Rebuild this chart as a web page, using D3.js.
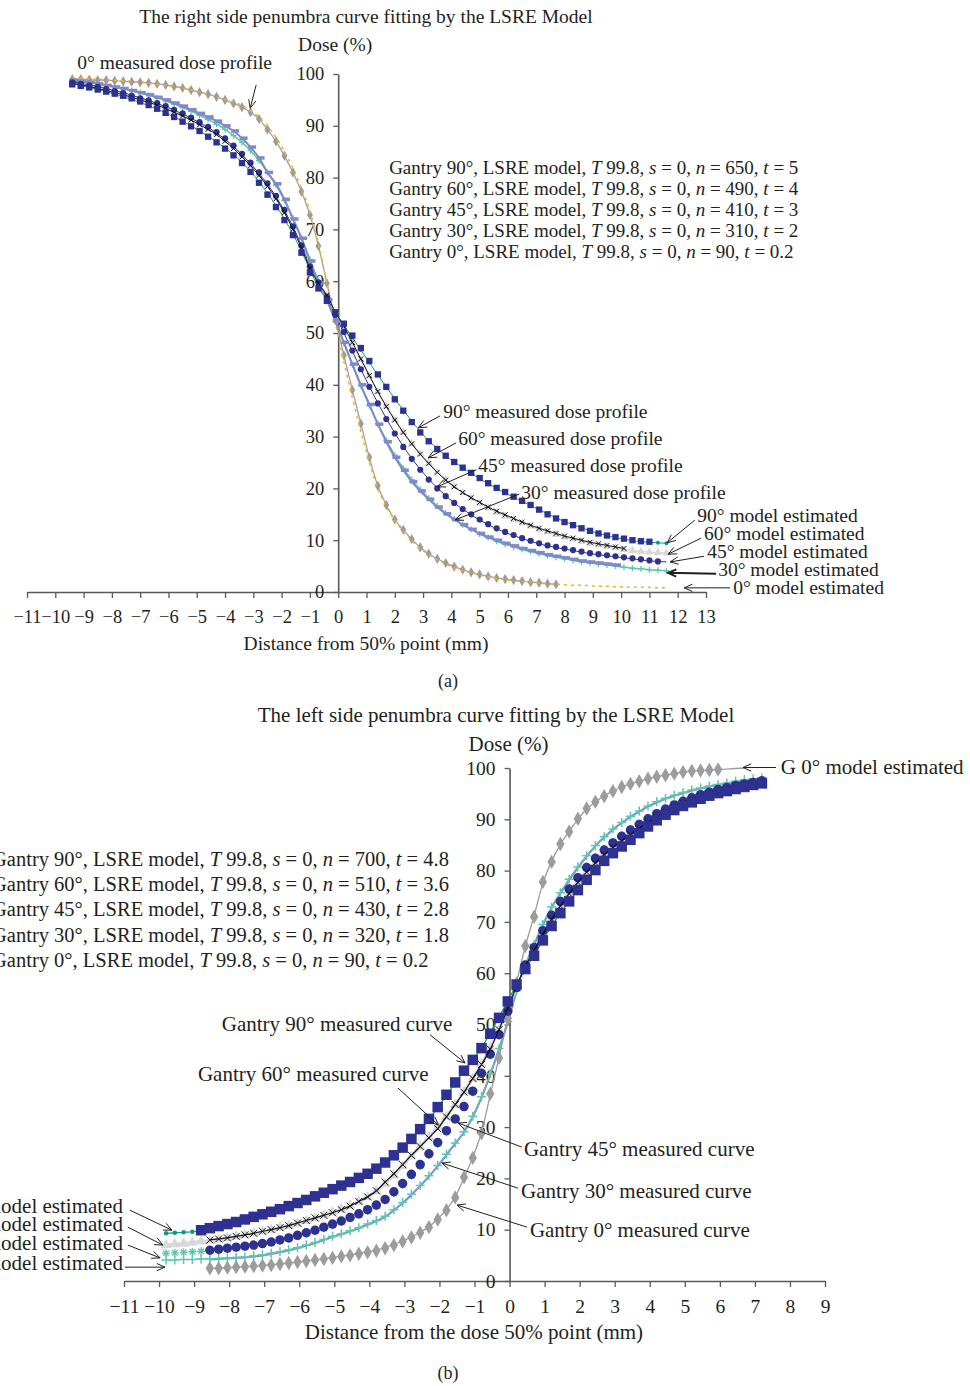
<!DOCTYPE html>
<html>
<head>
<meta charset="utf-8">
<script src="https://cdn.jsdelivr.net/npm/d3@7"></script>
<style>
  body { margin: 0; background: #fff; }
  text { font-family: "Liberation Serif", "DejaVu Serif", serif; fill: #231f20; }
</style>
</head>
<body>
<svg id="chart" width="970" height="1386"></svg>
<script>
// ---------- panel (a): right side penumbra, sampled every 0.3 mm from -9.4 mm
const aStart = -9.4, aStep = 0.3;
const aXTicks = [-11, -10, -9, -8, -7, -6, -5, -4, -3, -2, -1, 0, 1, 2, 3, 4, 5, 6, 7, 8, 9, 10, 11, 12, 13];
const yTicks = [0, 10, 20, 30, 40, 50, 60, 70, 80, 90, 100];

const a0Measured = [
  99.0, 99.0, 98.9, 98.8, 98.8, 98.7, 98.6, 98.5, 98.4, 98.3,
  98.1, 97.9, 97.6, 97.3, 96.9, 96.5, 96.1, 95.6, 95.0, 94.3,
  93.6, 92.6, 91.3, 89.3, 87.0, 84.2, 81.0, 77.3, 72.8, 66.8,
  59.6, 52.5, 45.7, 39.0, 32.5, 26.0, 20.5, 16.8, 14.0, 12.0,
  10.2, 8.6, 7.4, 6.4, 5.6, 4.9, 4.3, 3.8, 3.4, 3.0,
  2.7, 2.5, 2.3, 2.1, 1.9, 1.8, 1.6, 1.5];
const a0Model = [
  99.2, 99.2, 99.1, 99.0, 98.9, 98.8, 98.7, 98.6, 98.4, 98.2,
  98.0, 97.8, 97.6, 97.3, 96.9, 96.5, 96.1, 95.6, 95.1, 94.6,
  93.9, 92.9, 91.7, 90.0, 87.8, 85.0, 81.8, 78.0, 73.5, 67.3,
  59.8, 52.0, 44.5, 37.5, 31.0, 25.0, 20.0, 16.5, 13.8, 11.7,
  9.9, 8.4, 7.2, 6.2, 5.4, 4.7, 4.1, 3.7, 3.3, 2.9,
  2.6, 2.4, 2.2, 2.0, 1.9, 1.7, 1.6, 1.5, 1.4, 1.3,
  1.3, 1.2, 1.1, 1.1, 1.0, 1.0, 0.9, 0.9, 0.9, 0.8,
  0.8];
const a30Measured = [
  98.8, 98.6, 98.4, 98.1, 97.8, 97.5, 97.2, 96.8, 96.4, 96.0,
  95.5, 95.0, 94.4, 93.8, 93.1, 92.4, 91.7, 90.9, 90.0, 89.0,
  87.6, 85.9, 83.8, 81.0, 78.8, 75.8, 72.0, 68.3, 63.9, 59.7,
  56.4, 52.4, 48.2, 44.0, 40.0, 36.2, 32.4, 29.0, 26.0, 23.5,
  21.3, 19.5, 17.9, 16.4, 15.1, 14.0, 13.0, 12.1, 11.3, 10.6,
  10.0, 9.4, 8.9, 8.4, 8.0, 7.6, 7.2, 6.9, 6.6, 6.3,
  6.0, 5.8, 5.6, 5.4, 5.2];
const a30Model = [
  98.9, 98.7, 98.5, 98.2, 97.9, 97.6, 97.2, 96.8, 96.4, 95.9,
  95.4, 94.8, 94.2, 93.5, 92.8, 92.0, 91.2, 90.3, 89.3, 88.1,
  86.8, 85.2, 83.3, 81.0, 78.5, 75.6, 72.2, 68.4, 64.2, 60.0,
  56.3, 52.2, 48.0, 43.8, 39.8, 36.0, 32.5, 29.3, 26.4, 23.9,
  21.7, 19.8, 18.1, 16.6, 15.3, 14.1, 13.0, 12.1, 11.2, 10.5,
  9.8, 9.2, 8.7, 8.2, 7.8, 7.4, 7.0, 6.7, 6.4, 6.1,
  5.8, 5.6, 5.4, 5.2, 5.0, 4.8, 4.6, 4.5, 4.3, 4.2,
  4.1];
const a45Measured = [
  98.4, 98.1, 97.8, 97.5, 97.1, 96.7, 96.3, 95.8, 95.3, 94.9,
  94.4, 93.8, 93.1, 92.4, 91.6, 90.7, 89.8, 88.8, 87.6, 86.2,
  84.6, 82.9, 81.0, 78.9, 76.5, 73.8, 70.6, 66.9, 62.8, 59.8,
  57.0, 53.5, 50.2, 46.6, 43.0, 39.6, 36.4, 33.4, 30.6, 28.0,
  25.7, 23.6, 21.7, 20.0, 18.5, 17.2, 16.0, 15.0, 14.0, 13.1,
  12.3, 11.6, 11.0, 10.4, 9.9, 9.4, 9.0, 8.7, 8.4, 8.1,
  7.8, 7.5, 7.3, 7.1, 6.9, 6.7, 6.5, 6.3, 6.1, 5.9];
const a45Model = [
  98.5, 98.2, 97.9, 97.6, 97.2, 96.8, 96.4, 95.9, 95.4, 94.9,
  94.3, 93.7, 93.0, 92.3, 91.5, 90.6, 89.7, 88.6, 87.4, 86.0,
  84.4, 82.7, 80.8, 78.7, 76.3, 73.6, 70.5, 66.9, 63.0, 59.8,
  56.8, 53.4, 50.0, 46.5, 43.0, 39.7, 36.5, 33.5, 30.7, 28.1,
  25.8, 23.7, 21.8, 20.1, 18.6, 17.2, 16.0, 14.9, 13.9, 13.0,
  12.2, 11.5, 10.9, 10.3, 9.8, 9.3, 8.9, 8.6, 8.3, 8.0,
  7.7, 7.4, 7.2, 7.0, 6.8, 6.6, 6.4, 6.2, 6.0, 5.9,
  5.8];
const a60Measured = [
  98.2, 97.9, 97.6, 97.2, 96.8, 96.4, 96.0, 95.5, 95.0, 94.5,
  94.0, 93.3, 92.6, 91.9, 91.1, 90.2, 89.3, 88.3, 87.0, 85.6,
  84.0, 82.3, 80.4, 78.3, 75.9, 73.2, 70.0, 66.4, 62.5, 59.6,
  57.3, 54.0, 51.3, 48.2, 45.0, 41.8, 38.7, 35.8, 33.2, 30.8,
  28.6, 26.6, 24.8, 23.1, 21.6, 20.3, 19.2, 18.2, 17.3, 16.4,
  15.6, 14.9, 14.2, 13.5, 12.9, 12.3, 11.8, 11.3, 10.8, 10.4,
  10.0, 9.6, 9.3, 9.0, 8.7, 8.4];
const a60Model = [
  98.3, 98.0, 97.7, 97.3, 96.9, 96.5, 96.1, 95.6, 95.1, 94.6,
  94.1, 93.5, 92.8, 92.1, 91.3, 90.4, 89.5, 88.5, 87.3, 85.9,
  84.3, 82.6, 80.7, 78.6, 76.2, 73.5, 70.4, 66.9, 63.0, 59.9,
  57.2, 54.0, 51.0, 47.9, 44.8, 41.7, 38.7, 35.9, 33.3, 30.9,
  28.7, 26.7, 24.9, 23.2, 21.7, 20.4, 19.2, 18.1, 17.1, 16.2,
  15.4, 14.6, 13.9, 13.3, 12.7, 12.1, 11.6, 11.1, 10.6, 10.2,
  9.8, 9.4, 9.1, 8.8, 8.5, 8.2, 8.0, 7.8, 7.7, 7.6,
  7.5];
const a90Measured = [
  98.0, 97.7, 97.4, 97.0, 96.6, 96.2, 95.8, 95.3, 94.7, 94.0,
  93.3, 92.5, 91.7, 90.8, 89.9, 89.0, 87.9, 86.8, 85.6, 84.3,
  82.8, 81.1, 79.0, 76.7, 74.3, 71.8, 68.9, 65.5, 61.7, 58.6,
  56.2, 54.0, 51.8, 49.5, 47.1, 44.6, 42.0, 39.6, 37.2, 35.0,
  32.8, 30.8, 29.1, 27.6, 26.3, 25.1, 24.0, 23.0, 22.0, 21.0,
  20.1, 19.3, 18.4, 17.6, 16.8, 15.9, 15.0, 14.2, 13.5, 12.9,
  12.3, 11.8, 11.3, 10.9, 10.6, 10.3, 10.0, 9.8, 9.7];
const a90Model = [
  98.1, 97.8, 97.4, 97.0, 96.6, 96.1, 95.6, 95.1, 94.5, 93.9,
  93.2, 92.5, 91.7, 90.9, 90.0, 89.0, 88.0, 86.9, 85.7, 84.4,
  82.9, 81.2, 79.2, 77.0, 74.6, 72.0, 69.1, 65.8, 62.2, 58.9,
  56.3, 53.9, 51.5, 49.1, 46.7, 44.3, 41.9, 39.6, 37.3, 35.1,
  33.0, 31.0, 29.2, 27.7, 26.3, 25.1, 24.0, 22.9, 21.9, 20.9,
  20.0, 19.1, 18.3, 17.5, 16.7, 15.9, 15.1, 14.3, 13.6, 13.0,
  12.4, 11.8, 11.3, 10.9, 10.5, 10.2, 9.9, 9.7, 9.6, 9.5,
  9.4];

// ---------- panel (b): left side penumbra, sampled every 0.25 mm from -9.8 mm
const bStart = -9.8, bStep = 0.25;
const b90From = -8.8, bMeasFrom = -8.55;
const bXTicks = [-11, -10, -9, -8, -7, -6, -5, -4, -3, -2, -1, 0, 1, 2, 3, 4, 5, 6, 7, 8, 9];

const b90Measured = [
  9.9, 10.3, 10.7, 11.1, 11.5, 12.0, 12.5, 13.0, 13.5, 14.0,
  14.6, 15.2, 15.8, 16.5, 17.2, 17.9, 18.6, 19.3, 20.1, 20.9,
  21.9, 23.1, 24.5, 26.0, 27.7, 29.6, 31.6, 33.9, 36.3, 38.7,
  41.0, 43.1, 45.4, 48.2, 51.3, 54.5, 57.8, 60.8, 63.4, 66.4,
  69.2, 71.7, 74.0, 76.2, 78.2, 80.1, 81.9, 83.4, 84.7, 86.0,
  87.3, 88.6, 89.8, 90.9, 91.8, 92.6, 93.3, 94.0, 94.6, 95.1,
  95.5, 95.9, 96.3, 96.7, 97.0];
const b90Model = [
  9.3, 9.4, 9.5, 9.6, 9.8, 10.2, 10.6, 11.0, 11.4, 11.9,
  12.4, 12.9, 13.4, 13.9, 14.5, 15.1, 15.7, 16.4, 17.1, 17.8,
  18.5, 19.2, 20.0, 20.8, 21.8, 23.0, 24.4, 25.9, 27.6, 29.5,
  31.5, 33.8, 36.2, 38.6, 40.9, 43.1, 45.5, 48.3, 51.4, 54.6,
  57.8, 60.8, 63.5, 66.4, 69.2, 71.7, 74.0, 76.2, 78.2, 80.1,
  81.8, 83.4, 84.7, 86.0, 87.3, 88.6, 89.8, 90.9, 91.8, 92.6,
  93.3, 94.0, 94.6, 95.1, 95.5, 95.9, 96.3, 96.7, 97.0];
const b60Measured = [
  8.0, 8.2, 8.4, 8.7, 9.0, 9.3, 9.7, 10.0, 10.4, 10.8,
  11.3, 11.8, 12.3, 12.8, 13.3, 13.9, 14.6, 15.5, 16.4, 17.6,
  19.3, 20.9, 22.7, 24.5, 26.2, 27.9, 29.7, 32.0, 34.4, 36.8,
  39.5, 42.2, 45.2, 49.0, 53.2, 57.5, 61.3, 64.5, 67.6, 70.5,
  73.1, 75.5, 77.7, 79.7, 81.5, 83.1, 84.5, 85.8, 87.0, 88.2,
  89.3, 90.4, 91.4, 92.3, 93.1, 93.8, 94.4, 95.0, 95.5, 95.9,
  96.3, 96.7, 97.0, 97.3];
const b60Model = [
  7.0, 7.2, 7.3, 7.5, 7.7, 7.9, 8.1, 8.4, 8.7, 9.0,
  9.3, 9.6, 10.0, 10.4, 10.8, 11.2, 11.7, 12.2, 12.8, 13.4,
  14.0, 14.7, 15.5, 16.4, 17.5, 18.9, 20.6, 22.4, 24.3, 26.2,
  28.1, 30.0, 32.1, 34.4, 36.9, 39.5, 42.3, 45.4, 49.0, 53.0,
  57.2, 61.0, 64.4, 67.6, 70.5, 73.1, 75.5, 77.7, 79.7, 81.5,
  83.1, 84.5, 85.8, 87.0, 88.2, 89.3, 90.4, 91.4, 92.3, 93.1,
  93.8, 94.4, 95.0, 95.5, 95.9, 96.3, 96.7, 97.0, 97.3];
const b45Measured = [
  6.0, 6.2, 6.4, 6.6, 6.8, 7.0, 7.3, 7.6, 8.0, 8.4,
  8.9, 9.4, 9.9, 10.5, 11.1, 11.7, 12.4, 13.1, 13.9, 14.8,
  15.9, 17.4, 19.0, 20.8, 22.7, 24.8, 27.0, 29.3, 31.6, 34.0,
  37.0, 40.5, 44.2, 48.0, 52.6, 57.2, 61.6, 65.0, 68.3, 71.3,
  74.0, 76.4, 78.6, 80.6, 82.4, 84.0, 85.4, 86.7, 87.9, 89.0,
  90.1, 91.1, 92.0, 92.8, 93.5, 94.2, 94.8, 95.3, 95.8, 96.2,
  96.6, 96.9, 97.2, 97.5];
const b45Model = [
  5.4, 5.5, 5.6, 5.7, 5.8, 5.9, 6.1, 6.3, 6.5, 6.7,
  6.9, 7.2, 7.5, 7.9, 8.3, 8.7, 9.2, 9.7, 10.3, 10.9,
  11.5, 12.2, 12.9, 13.7, 14.6, 15.7, 17.1, 18.7, 20.5, 22.4,
  24.5, 26.7, 29.0, 31.4, 33.9, 36.8, 40.3, 44.0, 47.9, 52.4,
  57.0, 61.5, 65.1, 68.5, 71.5, 74.2, 76.6, 78.8, 80.8, 82.6,
  84.2, 85.6, 86.9, 88.1, 89.2, 90.2, 91.2, 92.1, 92.9, 93.6,
  94.3, 94.9, 95.4, 95.9, 96.3, 96.7, 97.0, 97.3, 97.6];
const b30Measured = [
  4.2, 4.3, 4.4, 4.5, 4.6, 4.8, 5.0, 5.3, 5.6, 6.0,
  6.4, 6.9, 7.4, 8.0, 8.6, 9.1, 9.7, 10.3, 11.0, 11.7,
  12.5, 13.8, 15.2, 16.8, 18.5, 20.4, 22.4, 24.6, 26.8, 29.0,
  32.0, 35.8, 40.3, 45.2, 50.5, 56.5, 61.5, 65.5, 69.4, 72.8,
  75.6, 78.2, 80.6, 82.8, 84.8, 86.5, 88.0, 89.3, 90.5, 91.5,
  92.5, 93.3, 94.0, 94.6, 95.1, 95.6, 96.0, 96.4, 96.7, 97.0,
  97.3, 97.6, 97.8, 98.0];
const b30Model = [
  4.1, 4.1, 4.2, 4.2, 4.3, 4.3, 4.4, 4.5, 4.6, 4.7,
  4.9, 5.1, 5.4, 5.7, 6.1, 6.5, 7.0, 7.5, 8.1, 8.7,
  9.2, 9.8, 10.4, 11.1, 11.8, 12.6, 13.9, 15.3, 16.9, 18.6,
  20.5, 22.5, 24.7, 26.9, 29.1, 32.1, 35.9, 40.4, 45.3, 50.6,
  56.6, 61.6, 65.6, 69.5, 72.9, 75.7, 78.3, 80.7, 82.9, 84.9,
  86.6, 88.1, 89.4, 90.6, 91.6, 92.6, 93.4, 94.1, 94.7, 95.2,
  95.7, 96.1, 96.5, 96.8, 97.1, 97.4, 97.7, 97.9, 98.1];
const b0Measured = [
  2.5, 2.5, 2.6, 2.7, 2.8, 2.9, 3.0, 3.1, 3.3, 3.5,
  3.7, 3.9, 4.1, 4.3, 4.5, 4.8, 5.0, 5.3, 5.6, 5.9,
  6.4, 7.0, 7.7, 8.5, 9.4, 10.5, 12.0, 13.8, 16.3, 20.2,
  24.0, 28.8, 36.5, 43.5, 51.2, 58.0, 65.3, 71.0, 77.8, 81.7,
  85.2, 87.6, 90.1, 92.1, 93.4, 94.5, 95.5, 96.3, 96.9, 97.4,
  97.9, 98.3, 98.6, 98.9, 99.2, 99.4, 99.5, 99.6, 99.7];
const b0Model = [
  2.4, 2.5, 2.6, 2.7, 2.8, 2.9, 3.0, 3.2, 3.3, 3.5,
  3.7, 3.9, 4.1, 4.3, 4.6, 4.8, 5.1, 5.4, 5.7, 6.0,
  6.5, 7.1, 7.8, 8.6, 9.5, 10.6, 12.1, 13.9, 16.4, 20.1,
  24.1, 29.0, 36.3, 43.6, 51.2, 58.2, 65.2, 71.2, 77.5, 81.8,
  85.1, 87.7, 90.0, 92.0, 93.4, 94.6, 95.5, 96.3, 96.9, 97.4,
  97.9, 98.3, 98.6, 98.9, 99.2, 99.4, 99.5, 99.6, 99.7, 99.8,
  99.9, 100.0];

// legend rows (gantry angle, n, t)
const gantryAngles = ['90°', '60°', '45°', '30°', '0°'];
const nRight = [650, 490, 410, 310, 90];
const tRight = ['5', '4', '3', '2', '0.2'];
const nLeft = [700, 510, 430, 320, 90];
const tLeft = ['4.8', '3.6', '2.8', '1.8', '0.2'];

// ---------- drawing
const ink = '#231f20', axisColor = '#58595b';
const navy = '#2e3192', peri = '#8189c9', teal = '#5cc7ae', green = '#00a07c',
  lightGray = '#d8d8d8', gray = '#9c9c9c', orange = '#f7b21b';
const fsA = 19.5, fsB = 21;

const symX = { draw(c, s) { const r = Math.sqrt(s) / 2; c.moveTo(-r, -r); c.lineTo(r, r); c.moveTo(r, -r); c.lineTo(-r, r); } };
const symPlus = { draw(c, s) { const r = Math.sqrt(s) / 2; c.moveTo(-r, 0); c.lineTo(r, 0); c.moveTo(0, -r); c.lineTo(0, r); } };
const symStar = { draw(c, s) { symX.draw(c, s * 0.5); symPlus.draw(c, s); } };
const symBar = { draw(c, s) { const w = Math.sqrt(s); c.rect(-w * 0.3, -w * 0.22, w, w * 0.44); } };

const svg = d3.select('#chart');

function series(g, sx, sy, from, step, values, o) {
  const pts = values.map((v, i) => [from + step * i, v]);
  if (o.line) {
    g.append('path').datum(pts)
      .attr('fill', 'none')
      .attr('stroke', o.line)
      .attr('stroke-width', o.lw || 1)
      .attr('stroke-dasharray', o.dash || null)
      .attr('d', d3.line().x(d => sx(d[0])).y(d => sy(d[1])).curve(d3.curveMonotoneX));
  }
  if (o.symbol) {
    g.append('g').selectAll('path').data(pts).join('path')
      .attr('transform', d => 'translate(' + sx(d[0]) + ',' + sy(d[1]) + ')')
      .attr('d', d3.symbol(o.symbol, o.size))
      .attr('fill', o.stroke ? 'none' : o.color)
      .attr('stroke', o.stroke ? o.color : null)
      .attr('stroke-width', o.stroke ? (o.sw || 1) : null);
  }
}

function axes(g, sx, sy, xTicks, fs) {
  const xa = g.append('g')
    .attr('transform', 'translate(0,' + sy(0) + ')')
    .call(d3.axisBottom(sx).tickValues(xTicks).tickSize(6).tickSizeOuter(0).tickPadding(12).tickFormat(d3.format('d')));
  const ya = g.append('g')
    .attr('transform', 'translate(' + sx(0) + ',0)')
    .call(d3.axisLeft(sy).tickValues(yTicks).tickSize(5).tickSizeOuter(0).tickPadding(9));
  [xa, ya].forEach(a => {
    a.select('.domain').attr('stroke', axisColor).attr('stroke-width', 1.6);
    a.selectAll('.tick line').attr('stroke', axisColor).attr('stroke-width', 1.3);
    a.selectAll('.tick text').attr('font-size', fs).attr('fill', ink);
  });
}

function label(g, px, py, txt, anchor, size) {
  return g.append('text').attr('x', px).attr('y', py)
    .attr('text-anchor', anchor || 'start')
    .attr('font-size', size)
    .text(txt);
}

// arrow given [x1, y1, x2, y2] in data units, head at the second point
function arrow(g, sx, sy, a, w) {
  const x1 = sx(a[0]), y1 = sy(a[1]), x2 = sx(a[2]), y2 = sy(a[3]);
  const ang = Math.atan2(y2 - y1, x2 - x1), L = 9, sp = 0.42;
  const p = 'M' + x1 + ',' + y1 + 'L' + x2 + ',' + y2 +
    'M' + (x2 - L * Math.cos(ang - sp)) + ',' + (y2 - L * Math.sin(ang - sp)) +
    'L' + x2 + ',' + y2 +
    'L' + (x2 - L * Math.cos(ang + sp)) + ',' + (y2 - L * Math.sin(ang + sp));
  g.append('path').attr('d', p).attr('fill', 'none').attr('stroke', ink).attr('stroke-width', w || 1);
}

function legendLine(g, px, py, anchor, size, angle, n, t) {
  const tx = g.append('text').attr('x', px).attr('y', py).attr('text-anchor', anchor).attr('font-size', size);
  tx.append('tspan').text('Gantry ' + angle + ', LSRE model, ');
  tx.append('tspan').attr('font-style', 'italic').text('T');
  tx.append('tspan').text(' 99.8, ');
  tx.append('tspan').attr('font-style', 'italic').text('s');
  tx.append('tspan').text(' = 0, ');
  tx.append('tspan').attr('font-style', 'italic').text('n');
  tx.append('tspan').text(' = ' + n + ', ');
  tx.append('tspan').attr('font-style', 'italic').text('t');
  tx.append('tspan').text(' = ' + t);
  return tx;
}

// ===== panel (a)
const xA = d3.scaleLinear().domain([-11, 13]).range([27, 706]);
const yA = d3.scaleLinear().domain([0, 100]).range([592, 74]);
const gA = svg.append('g');

axes(gA, xA, yA, aXTicks, 18.5);

series(gA, xA, yA, aStart, aStep, a60Model, { line: lightGray, lw: 1.5, symbol: d3.symbolTriangle, size: 30, color: lightGray });
series(gA, xA, yA, aStart, aStep, a90Model, { line: green, lw: 1, symbol: d3.symbolCircle, size: 12, color: green });
series(gA, xA, yA, aStart, aStep, a45Model, { line: navy, lw: 1 });
series(gA, xA, yA, aStart, aStep, a30Model, { line: teal, lw: 1.5, symbol: symPlus, size: 36, color: teal, stroke: true, sw: 1.3 });
series(gA, xA, yA, aStart, aStep, a0Measured, { line: gray, lw: 1.2, symbol: d3.symbolDiamond, size: 30, color: gray });
series(gA, xA, yA, aStart, aStep, a0Model, { line: orange, lw: 1.5, dash: '3,4' });
series(gA, xA, yA, aStart, aStep, a30Measured, { line: peri, lw: 2, symbol: symBar, size: 64, color: peri });
series(gA, xA, yA, aStart, aStep, a45Measured, { symbol: d3.symbolCircle, size: 30, color: navy });
series(gA, xA, yA, aStart, aStep, a60Measured, { line: '#111', lw: 1, symbol: symX, size: 25, color: '#111', stroke: true });
series(gA, xA, yA, aStart, aStep, a90Measured, { symbol: d3.symbolSquare, size: 40, color: navy });

label(gA, 366, 23, 'The right side penumbra curve fitting by the LSRE Model', 'middle', fsA);
label(gA, xA(0) - 3, 51, 'Dose (%)', 'middle', fsA);
label(gA, xA(-9.22), yA(101), '0° measured dose profile', 'start', fsA);
arrow(gA, xA, yA, [-2.9, 97.9, -3.11, 93.4]);

gantryAngles.forEach((a, i) => legendLine(gA, xA(1.8), 174 + i * 21, 'start', fsA - 0.5, a, nRight[i], tRight[i]));

label(gA, xA(3.71), yA(33.6), '90° measured dose profile', 'start', fsA);
arrow(gA, xA, yA, [3.6, 34.0, 2.83, 31.7]);
label(gA, xA(4.24), yA(28.4), '60° measured dose profile', 'start', fsA);
arrow(gA, xA, yA, [4.17, 28.8, 3.18, 25.9]);
label(gA, xA(4.95), yA(23.2), '45° measured dose profile', 'start', fsA);
arrow(gA, xA, yA, [4.88, 23.6, 3.5, 20.3]);
label(gA, xA(6.47), yA(18.0), '30° measured dose profile', 'start', fsA);
arrow(gA, xA, yA, [6.4, 18.9, 4.13, 13.9]);

label(gA, xA(12.69), yA(13.5), '90° model estimated', 'start', fsA);
arrow(gA, xA, yA, [12.61, 13.9, 11.63, 9.5]);
label(gA, xA(12.93), yA(10.0), '60° model estimated', 'start', fsA);
arrow(gA, xA, yA, [12.83, 10.4, 11.66, 7.3]);
label(gA, xA(13.04), yA(6.6), '45° model estimated', 'start', fsA);
arrow(gA, xA, yA, [12.93, 6.9, 11.73, 5.8]);
label(gA, xA(13.43), yA(3.1), '30° model estimated', 'start', fsA);
arrow(gA, xA, yA, [13.36, 3.5, 11.66, 3.7], 2);
label(gA, xA(13.96), yA(-0.4), '0° model estimated', 'start', fsA);
arrow(gA, xA, yA, [13.85, 0.8, 12.23, 0.8]);

label(gA, 366, 650, 'Distance from 50% point (mm)', 'middle', fsA);
label(gA, 448, 687, '(a)', 'middle', 18);

// ===== panel (b)
const xB = d3.scaleLinear().domain([-11, 9]).range([124, 825]);
const yB = d3.scaleLinear().domain([0, 100]).range([1281, 768]);
const gB = svg.append('g');

axes(gB, xB, yB, bXTicks, 19.5);

series(gB, xB, yB, bMeasFrom, bStep, b30Measured, { line: peri, lw: 2.2 });
series(gB, xB, yB, bStart, bStep, b30Model, { line: teal, lw: 1, symbol: symPlus, size: 81, color: teal, stroke: true, sw: 1.5 });
series(gB, xB, yB, bStart, bStep, b45Model, { symbol: symStar, size: 64, color: teal, stroke: true, sw: 1.3 });
series(gB, xB, yB, bStart, bStep, b60Model, { line: lightGray, lw: 3, symbol: d3.symbolTriangle, size: 50, color: lightGray });
series(gB, xB, yB, bStart, bStep, b90Model, { line: green, lw: 1.2, symbol: d3.symbolCircle, size: 16, color: green });
series(gB, xB, yB, bMeasFrom, bStep, b0Model, { line: gray, lw: 1.3 });
series(gB, xB, yB, bMeasFrom, bStep, b0Measured, { symbol: d3.symbolDiamond, size: 60, color: gray });
series(gB, xB, yB, bMeasFrom, bStep, b45Measured, { symbol: d3.symbolCircle, size: 70, color: navy });
series(gB, xB, yB, bMeasFrom, bStep, b60Measured, { line: '#111', lw: 1.2, symbol: symX, size: 49, color: '#111', stroke: true });
series(gB, xB, yB, b90From, bStep, b90Measured, { symbol: d3.symbolSquare, size: 110, color: navy });

label(gB, 496, 722, 'The left side penumbra curve fitting by the LSRE Model', 'middle', fsB);
label(gB, xB(0) - 1, 751, 'Dose (%)', 'middle', fsB);
label(gB, xB(7.74), yB(98.8), 'G 0° model estimated', 'start', fsB);
arrow(gB, xB, yB, [7.6, 100.1, 6.66, 100.1]);

// left-aligned legend whose first row ends at x = -1.73 mm
const firstRow = legendLine(gB, xB(-1.73), 866, 'end', fsB - 0.5, gantryAngles[0], nLeft[0], tLeft[0]);
const legendX = xB(-1.73) - firstRow.node().getComputedTextLength();
firstRow.attr('x', legendX).attr('text-anchor', 'start');
gantryAngles.slice(1).forEach((a, i) => legendLine(gB, legendX, 866 + (i + 1) * 25.2, 'start', fsB - 0.5, a, nLeft[i + 1], tLeft[i + 1]));

label(gB, xB(-8.21), yB(48.7), 'Gantry 90° measured curve', 'start', fsB);
arrow(gB, xB, yB, [-2.27, 48.0, -1.27, 42.5]);
label(gB, xB(-8.89), yB(39.0), 'Gantry 60° measured curve', 'start', fsB);
arrow(gB, xB, yB, [-3.18, 37.6, -2.03, 30.4]);
label(gB, xB(0.41), yB(24.4), 'Gantry 45° measured curve', 'start', fsB);
arrow(gB, xB, yB, [0.35, 26.1, -1.47, 30.8]);
label(gB, xB(0.33), yB(16.2), 'Gantry 30° measured curve', 'start', fsB);
arrow(gB, xB, yB, [0.24, 18.1, -1.93, 23.0]);
label(gB, xB(0.58), yB(8.6), 'Gantry 0° measured curve', 'start', fsB);
arrow(gB, xB, yB, [0.5, 10.5, -1.5, 14.8]);

label(gB, xB(-11.03), yB(13.3), '90° model estimated', 'end', fsB);
arrow(gB, xB, yB, [-10.83, 13.8, -9.63, 9.9]);
label(gB, xB(-11.03), yB(9.7), '60° model estimated', 'end', fsB);
arrow(gB, xB, yB, [-10.89, 10.5, -9.89, 7.0]);
label(gB, xB(-11.03), yB(6.0), '45° model estimated', 'end', fsB);
arrow(gB, xB, yB, [-10.89, 7.0, -9.97, 4.5]);
label(gB, xB(-11.03), yB(2.1), '30° model estimated', 'end', fsB);
arrow(gB, xB, yB, [-10.97, 2.7, -9.83, 2.7]);

label(gB, 474, 1339, 'Distance from the dose 50% point (mm)', 'middle', fsB);
label(gB, 448, 1379, '(b)', 'middle', 18);
</script>
</body>
</html>
